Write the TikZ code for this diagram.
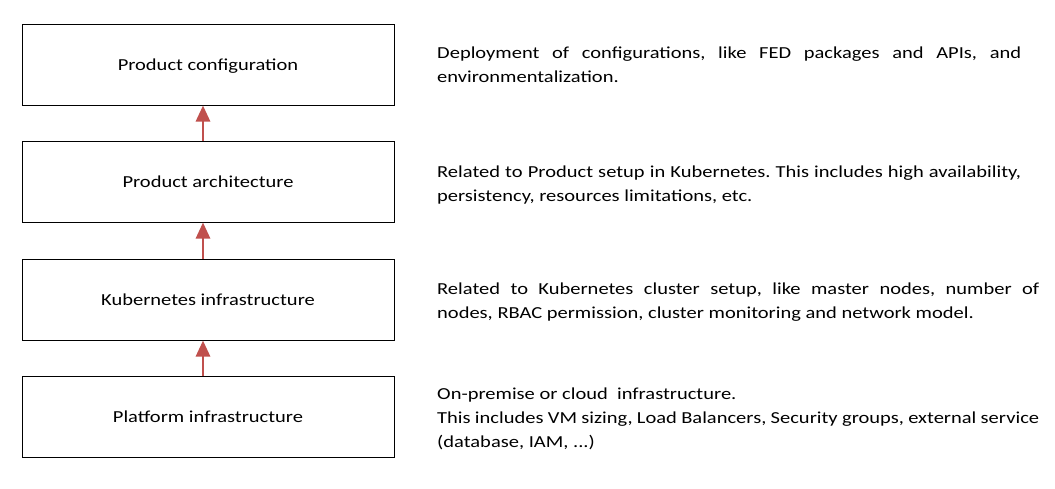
\documentclass[tikz,border=0pt]{standalone}
\usepackage{fontspec}
\setmainfont{Carlito}[FakeStretch=1.22]
\usetikzlibrary{arrows.meta}
\definecolor{arr}{HTML}{C0504D}
\frenchspacing
\begin{document}
\begin{tikzpicture}[x=1pt,y=-1pt,
  layer/.style={draw=black,line width=1pt,minimum width=372pt,minimum height=81pt,font=\fontsize{16.8}{20}\selectfont,inner sep=0pt,text height=12pt,text depth=1pt},
  desc/.style={anchor=base west,inner sep=0pt,font=\fontsize{16.8}{20}\selectfont},
  up/.style={draw=arr,line width=2.8pt,-{Triangle[width=14pt,length=16pt]}}]
\useasboundingbox (0,0) rectangle (1055,488);
\node[layer] (b1) at (208,64.5) {Product configuration};
\node[layer] (b2) at (208,181.5) {Product architecture};
\node[layer] (b3) at (208,299.5) {Kubernetes infrastructure};
\node[layer] (b4) at (208,417) {Platform infrastructure};
\foreach \a/\b in {b2/b1,b3/b2,b4/b3}
  \draw[up] ([xshift=-5pt]\a.north) -- ([xshift=-5pt]\b.south);
\node[desc] (d1a) at (437,58) {\makebox[584pt][s]{Deployment of configurations, like FED packages and APIs, and}};
\node[desc] (d1b) at (437,82) {environmentalization.};
\node[desc] (d2a) at (437,177) {\makebox[584pt][s]{Related to Product setup in Kubernetes. This includes high availability,}};
\node[desc] (d2b) at (437,201) {persistency, resources limitations, etc.};
\node[desc] (d3a) at (437,294) {\makebox[602pt][s]{Related to Kubernetes cluster setup, like master nodes, number of}};
\node[desc] (d3b) at (437,318) {nodes, RBAC permission, cluster monitoring and network model.};
\node[desc] (d4a) at (437,399) {On-premise or cloud~ infrastructure.};
\node[desc] (d4b) at (437,423) {\makebox[602pt][s]{This includes VM sizing, Load Balancers, Security groups, external service}};
\node[desc] (d4c) at (437,447) {(database, IAM, ...)};
\end{tikzpicture}
\end{document}
